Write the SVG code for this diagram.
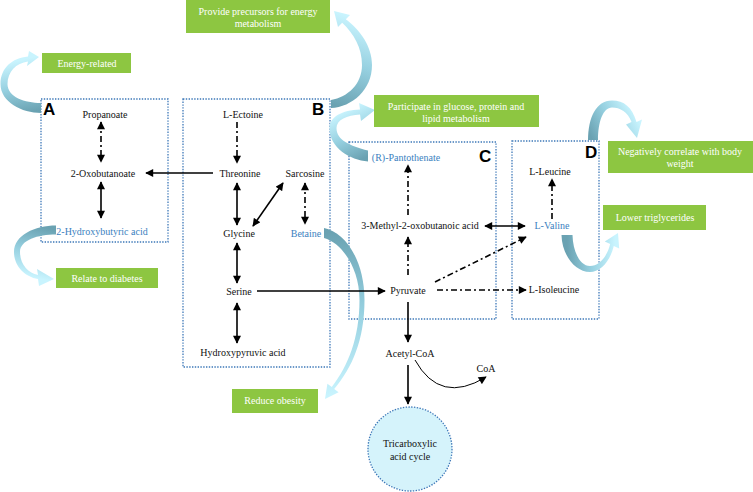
<svg xmlns="http://www.w3.org/2000/svg" width="753" height="492" viewBox="0 0 753 492">
<style>
.box{fill:none;stroke:#3d78b8;stroke-width:1.3;stroke-dasharray:1.4 1.4}
.lbl{font-family:"Liberation Serif","Times New Roman",serif;font-size:10px;fill:#111;text-anchor:middle}
.blue{fill:#3b7fc0}
.big{font-family:"Liberation Sans",Arial,sans-serif;font-size:17px;font-weight:bold;fill:#000}
.gr{fill:#8dc641}
.gt{font-family:"Liberation Serif","Times New Roman",serif;font-size:10px;fill:#fff;text-anchor:middle}
.s{fill:none;stroke:#000;stroke-width:1.6}
.d{fill:none;stroke:#000;stroke-width:1.6;stroke-dasharray:6 3 2 3}
.e{marker-end:url(#ah)}
.b{marker-start:url(#ah);marker-end:url(#ah)}
</style>
<defs>
<marker id="ah" viewBox="0 0 10 10" refX="9" refY="5" markerWidth="9" markerHeight="8" markerUnits="userSpaceOnUse" orient="auto-start-reverse">
<path d="M0,0 L10,5 L0,10 z" fill="#000"/>
</marker>
<linearGradient id="g1" gradientUnits="userSpaceOnUse" x1="41" y1="110" x2="30" y2="58"><stop offset="0" stop-color="#6aa2b2"/><stop offset="0.5" stop-color="#96d0e0"/><stop offset="1" stop-color="#c9f4fe"/></linearGradient>
<linearGradient id="g2" gradientUnits="userSpaceOnUse" x1="56" y1="230" x2="45" y2="280"><stop offset="0" stop-color="#6aa2b2"/><stop offset="0.5" stop-color="#96d0e0"/><stop offset="1" stop-color="#c9f4fe"/></linearGradient>
<linearGradient id="g3" gradientUnits="userSpaceOnUse" x1="331" y1="104" x2="360" y2="20"><stop offset="0" stop-color="#6aa2b2"/><stop offset="0.5" stop-color="#96d0e0"/><stop offset="1" stop-color="#c9f4fe"/></linearGradient>
<linearGradient id="g4" gradientUnits="userSpaceOnUse" x1="368" y1="156" x2="345" y2="110"><stop offset="0" stop-color="#6aa2b2"/><stop offset="0.5" stop-color="#96d0e0"/><stop offset="1" stop-color="#c9f4fe"/></linearGradient>
<linearGradient id="g5" gradientUnits="userSpaceOnUse" x1="593" y1="140" x2="636" y2="115"><stop offset="0" stop-color="#6aa2b2"/><stop offset="0.5" stop-color="#96d0e0"/><stop offset="1" stop-color="#c9f4fe"/></linearGradient>
<linearGradient id="g6" gradientUnits="userSpaceOnUse" x1="567" y1="240" x2="615" y2="240"><stop offset="0" stop-color="#6aa2b2"/><stop offset="0.5" stop-color="#96d0e0"/><stop offset="1" stop-color="#c9f4fe"/></linearGradient>
<linearGradient id="g7" gradientUnits="userSpaceOnUse" x1="324" y1="233" x2="340" y2="395"><stop offset="0" stop-color="#6aa2b2"/><stop offset="0.5" stop-color="#96d0e0"/><stop offset="1" stop-color="#c9f4fe"/></linearGradient>
</defs>
<rect width="753" height="492" fill="#fff"/>

<g id="boxA"><rect class="box" x="41" y="99" width="127" height="143"/><text class="big" x="43" y="115">A</text></g>
<g id="boxB"><rect class="box" x="183" y="99" width="147" height="268"/><text class="big" x="312" y="115">B</text></g>
<g id="boxC"><rect class="box" x="349" y="142" width="147" height="177"/><text class="big" x="479" y="162">C</text></g>
<g id="boxD"><rect class="box" x="512" y="141" width="87" height="178"/><text class="big" x="585" y="158">D</text></g>

<g id="ribbons">
<path fill="url(#g1)" d="M41 103 C25 103 7.5 97 7.5 84 C7.5 72 16 63 28 61.5 L27 66 L39 57 L29 51 L28 56.5 C12 58 0.5 68 0.5 84 C0.5 102 22 113 41 113 Z"/>
<path fill="url(#g2)" d="M56 225.5 C35 225.5 14 235 14 252 C14 266 25 277 38 279 L39 286 L54 279 L37 269 L38 275 C28 273 20 264 20 252 C20 240 38 234.5 56 234.5 Z"/>
<path fill="url(#g3)" d="M331 100 C348 97 362 84 362 65 C362 48 354 34 342.2 22.8 L338 27 L334 11 L350 15 L345.8 19.2 C360 30 372 46 372 65 C372 90 352 107 331 108 Z"/>
<path fill="url(#g4)" d="M368 150.5 C350 146 336.5 140 336.5 128 C336.5 120 347 115 360 114.5 L361 121 L375 110 L359 103 L360 109.5 C342 110 329.5 117 329.5 128 C329.5 148 350 160 368 161.5 Z"/>
<path fill="url(#g5)" d="M598 140 C598 122 603 107.5 612 107.5 C620 107.5 628 112 631.5 122 L626 124.4 L637 138 L642 119.6 L636.5 122 C632 107 624 100.5 612 100.5 C596 100.5 588 118 588 140 Z"/>
<path fill="url(#g6)" d="M561.5 235 C562 255 575 272 590 272 C600 272 610 262 613.8 245.9 L619.2 248.6 L618 233 L604.8 241.4 L610.2 244.1 C607 257 599 266 590 266 C580 266 573 252 572.5 235 Z"/>
<path fill="url(#g7)" d="M324 228 C345 232 364.5 260 364.5 300 C364.5 340 352 368 334.2 388.9 L338.6 392.2 L325 399 L327.4 383.8 L331.8 387.1 C348 366 359.5 338 359.5 300 C359.5 268 342 243 324 238 Z"/>
</g>

<g id="connectors">
<line class="d b" x1="101" y1="122" x2="101" y2="162"/>
<line class="s b" x1="101" y1="182" x2="101" y2="218"/>
<line class="s e" x1="213" y1="173" x2="146" y2="173"/>
<line class="d e" x1="237" y1="122" x2="237" y2="163"/>
<line class="s b" x1="237" y1="183" x2="237" y2="225"/>
<line class="s b" x1="253" y1="226" x2="283" y2="183"/>
<line class="d b" x1="305" y1="183" x2="305" y2="224"/>
<line class="s b" x1="237" y1="243" x2="237" y2="283"/>
<line class="s b" x1="237" y1="303" x2="237" y2="343"/>
<line class="s e" x1="257" y1="291" x2="385" y2="291"/>
<line class="s e" x1="408" y1="302" x2="408" y2="342"/>
<line class="s e" x1="408" y1="365" x2="408" y2="404"/>
<path class="e" fill="none" stroke="#000" stroke-width="1" d="M415 360 Q440 405 486 377"/>
<line class="d e" x1="408" y1="275" x2="408" y2="237"/>
<line class="d e" x1="408" y1="215" x2="408" y2="165"/>
<line class="s b" x1="485" y1="226" x2="525" y2="226"/>
<line class="d e" x1="552" y1="219" x2="552" y2="179"/>
<line class="d e" x1="435" y1="282" x2="526" y2="237"/>
<line class="d e" x1="437" y1="290" x2="526" y2="290"/>
</g>

<g id="n-propanoate"><text class="lbl" x="105" y="118">Propanoate</text></g>
<g id="n-2-oxobutanoate"><text class="lbl" x="103" y="177">2-Oxobutanoate</text></g>
<g id="n-2-hydroxybutyric"><text class="lbl blue" x="102" y="235">2-Hydroxybutyric acid</text></g>
<g id="n-ectoine"><text class="lbl" x="243" y="118">L-Ectoine</text></g>
<g id="n-threonine"><text class="lbl" x="240" y="177">Threonine</text></g>
<g id="n-sarcosine"><text class="lbl" x="305" y="177">Sarcosine</text></g>
<g id="n-glycine"><text class="lbl" x="239" y="237">Glycine</text></g>
<g id="n-betaine"><text class="lbl blue" x="306" y="237">Betaine</text></g>
<g id="n-serine"><text class="lbl" x="239" y="295">Serine</text></g>
<g id="n-hydroxypyruvic"><text class="lbl" x="243" y="356">Hydroxypyruvic acid</text></g>
<g id="n-pantothenate"><text class="lbl blue" x="406" y="161">(R)-Pantothenate</text></g>
<g id="n-3-methyl"><text class="lbl" x="420" y="229">3-Methyl-2-oxobutanoic acid</text></g>
<g id="n-pyruvate"><text class="lbl" x="408" y="294">Pyruvate</text></g>
<g id="n-acetyl-coa"><text class="lbl" x="410" y="357">Acetyl-CoA</text></g>
<g id="n-coa"><text class="lbl" x="486" y="372">CoA</text></g>
<g id="n-leucine"><text class="lbl" x="550" y="175">L-Leucine</text></g>
<g id="n-valine"><text class="lbl blue" x="552" y="229">L-Valine</text></g>
<g id="n-isoleucine"><text class="lbl" x="554" y="293">L-Isoleucine</text></g>
<g id="n-tca"><circle cx="410" cy="449" r="42" fill="#d5f3fb" stroke="#3d78b8" stroke-width="1.3" stroke-dasharray="1.4 1.4"/><text class="lbl" x="410" y="447">Tricarboxylic</text><text class="lbl" x="410" y="460">acid cycle</text></g>

<g id="n-energy"><rect class="gr" x="42" y="53" width="89" height="20"/><text class="gt" x="87" y="66.5">Energy-related</text></g>
<g id="n-diabetes"><rect class="gr" x="56" y="268" width="102" height="20"/><text class="gt" x="107" y="281.5">Relate to diabetes</text></g>
<g id="n-precursors"><rect class="gr" x="186" y="0" width="144" height="33"/><text class="gt" x="258" y="15">Provide precursors for energy</text><text class="gt" x="258" y="27">metabolism</text></g>
<g id="n-participate"><rect class="gr" x="374" y="95" width="165" height="32"/><text class="gt" x="456" y="109.5">Participate in glucose, protein and</text><text class="gt" x="456" y="121.5">lipid metabolism</text></g>
<g id="n-bodyweight"><rect class="gr" x="608" y="141" width="145" height="32"/><text class="gt" x="680" y="154.5">Negatively correlate with body</text><text class="gt" x="680" y="166.5">weight</text></g>
<g id="n-triglycerides"><rect class="gr" x="603" y="205" width="103" height="25"/><text class="gt" x="655" y="221">Lower triglycerides</text></g>
<g id="n-obesity"><rect class="gr" x="232" y="389" width="86" height="24"/><text class="gt" x="275" y="404">Reduce obesity</text></g>
</svg>
